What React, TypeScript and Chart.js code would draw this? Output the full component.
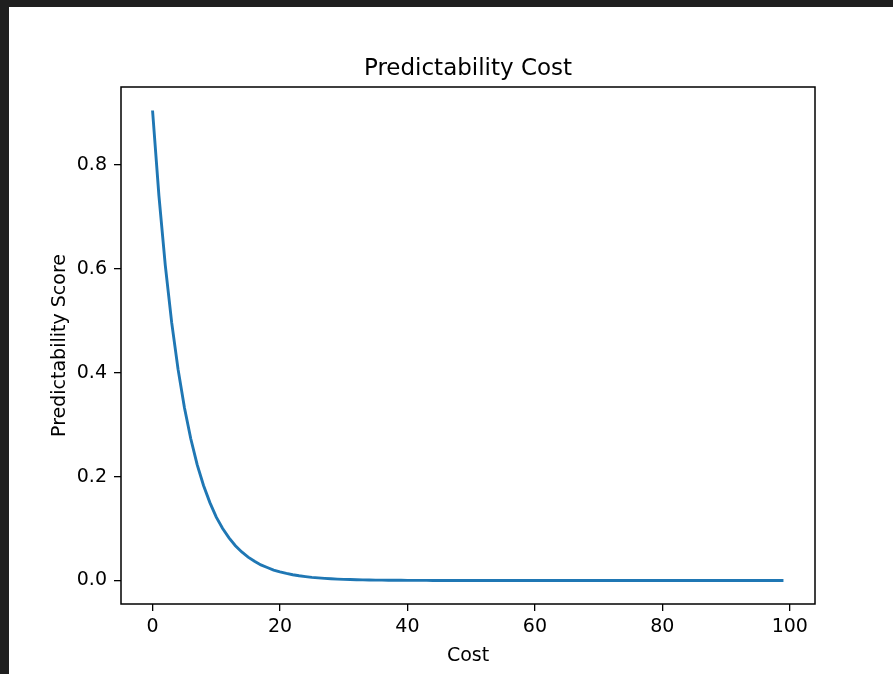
import React, { useEffect, useRef } from "react";
import { Chart, registerables } from "chart.js";

Chart.register(...registerables);

const TITLE = "Predictability Cost";
const X_LABEL = "Cost";
const Y_LABEL = "Predictability Score";

const costs = [
  0, 1, 2, 3, 4, 5, 6, 7, 8, 9,
  10, 11, 12, 13, 14, 15, 16, 17, 18, 19,
  20, 21, 22, 23, 24, 25, 26, 27, 28, 29,
  30, 31, 32, 33, 34, 35, 36, 37, 38, 39,
  40, 41, 42, 43, 44, 45, 46, 47, 48, 49,
  50, 51, 52, 53, 54, 55, 56, 57, 58, 59,
  60, 61, 62, 63, 64, 65, 66, 67, 68, 69,
  70, 71, 72, 73, 74, 75, 76, 77, 78, 79,
  80, 81, 82, 83, 84, 85, 86, 87, 88, 89,
  90, 91, 92, 93, 94, 95, 96, 97, 98, 99,
];

const scores = [
  0.905, 0.741, 0.607, 0.497, 0.407, 0.333, 0.273, 0.223, 0.183, 0.150,
  0.122, 0.100, 0.082, 0.067, 0.055, 0.045, 0.037, 0.030, 0.025, 0.020,
  0.0166, 0.0136, 0.0111, 0.0091, 0.0075, 0.0061, 0.0050, 0.0041, 0.0034, 0.0027,
  0.0022, 0.0018, 0.0015, 0.0012, 0.0010, 0.0008, 0.0007, 0.0006, 0.0005, 0.0004,
  0.0003, 0.0003, 0.0002, 0.0002, 0.0001, 0.0001, 0.0001, 0.0001, 0.0001, 0.0001,
  0, 0, 0, 0, 0, 0, 0, 0, 0, 0,
  0, 0, 0, 0, 0, 0, 0, 0, 0, 0,
  0, 0, 0, 0, 0, 0, 0, 0, 0, 0,
  0, 0, 0, 0, 0, 0, 0, 0, 0, 0,
  0, 0, 0, 0, 0, 0, 0, 0, 0, 0,
];

const xTicks = [0, 20, 40, 60, 80, 100];
const yTicks = [0, 0.2, 0.4, 0.6, 0.8];
const xRange = [-4.95, 103.95];
const yRange = [-0.04525, 0.95025];

const FONT = '"DejaVu Sans", "Liberation Sans", sans-serif';
const W = 884;
const H = 667;

const framePlugin = {
  id: "frame",
  afterDraw(chart: any) {
    const { ctx, chartArea } = chart;
    ctx.save();
    ctx.strokeStyle = "#000";
    ctx.lineWidth = 1.5;
    ctx.strokeRect(
      chartArea.left,
      chartArea.top,
      chartArea.right - chartArea.left,
      chartArea.bottom - chartArea.top
    );
    ctx.restore();
  },
};

export default function App() {
  const ref = useRef<HTMLCanvasElement>(null);

  useEffect(() => {
    if (!ref.current) return;
    const chart = new Chart(ref.current, {
      type: "line",
      data: {
        datasets: [
          {
            data: costs.map((c, i) => ({ x: c, y: scores[i] })),
            borderColor: "#1f77b4",
            borderWidth: 2.9,
            pointRadius: 0,
            tension: 0,
            fill: false,
          },
        ],
      },
      plugins: [framePlugin],
      options: {
        animation: false,
        responsive: false,
        devicePixelRatio: 1,
        layout: { padding: { left: 0, top: 0, right: 78, bottom: 0 } },
        plugins: {
          legend: { display: false },
          tooltip: { enabled: false },
          title: {
            display: true,
            text: TITLE,
            color: "#000",
            fullSize: false,
            font: { family: FONT, size: 23, weight: "normal" },
            padding: { top: 48.7, bottom: 3.7 },
          },
        },
        scales: {
          x: {
            type: "linear",
            min: xRange[0],
            max: xRange[1],
            afterBuildTicks: (s: any) => {
              s.ticks = xTicks.map((v) => ({ value: v }));
            },
            afterFit: (s: any) => {
              s.height = 70;
            },
            grid: {
              display: true,
              drawOnChartArea: false,
              drawTicks: true,
              tickLength: 7,
              color: "#000",
              lineWidth: 1.3,
            },
            border: { display: false },
            ticks: {
              color: "#000",
              padding: 5,
              maxRotation: 0,
              font: { family: FONT, size: 19 },
              callback: (v: any) => String(v),
            },
            title: {
              display: true,
              text: X_LABEL,
              color: "#000",
              font: { family: FONT, size: 19 },
              padding: { top: 0, bottom: 6.6 },
            },
          },
          y: {
            type: "linear",
            min: yRange[0],
            max: yRange[1],
            afterBuildTicks: (s: any) => {
              s.ticks = yTicks.map((v) => ({ value: v }));
            },
            afterFit: (s: any) => {
              s.width = 112;
            },
            grid: {
              display: true,
              drawOnChartArea: false,
              drawTicks: true,
              tickLength: 7,
              color: "#000",
              lineWidth: 1.3,
            },
            border: { display: false },
            ticks: {
              color: "#000",
              padding: 7,
              font: { family: FONT, size: 19 },
              callback: (v: any) => Number(v).toFixed(1),
            },
            title: {
              display: true,
              text: Y_LABEL,
              color: "#000",
              font: { family: FONT, size: 19 },
              padding: { top: 39.6, bottom: 0 },
            },
          },
        },
      },
    } as any);
    return () => chart.destroy();
  }, []);

  return (
    <div
      style={{
        position: "fixed",
        left: 0,
        top: 0,
        width: 893,
        height: 674,
        background: "#1f1f1f",
        overflow: "hidden",
      }}
    >
      <div
        style={{
          position: "absolute",
          left: 9,
          top: 7,
          width: W,
          height: H,
          background: "#fff",
        }}
      >
        <canvas
          ref={ref}
          width={W}
          height={H}
          style={{ display: "block", width: W, height: H }}
        />
      </div>
    </div>
  );
}
